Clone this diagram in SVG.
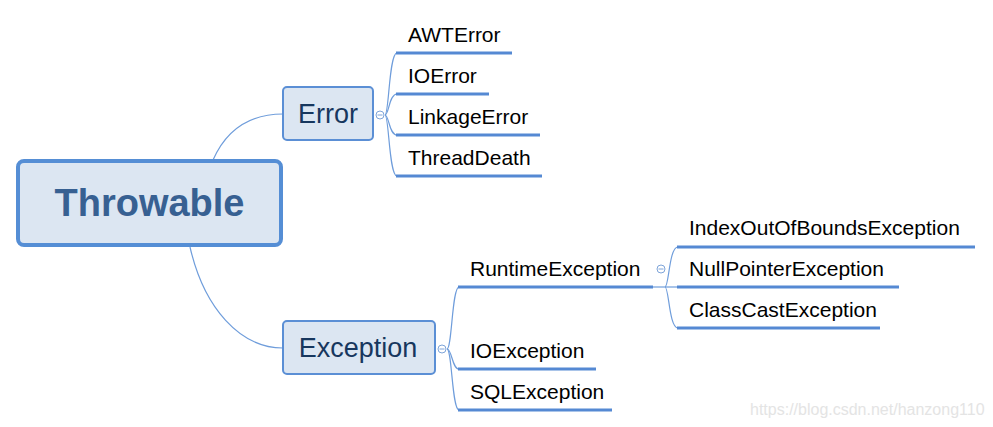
<svg xmlns="http://www.w3.org/2000/svg" width="993" height="427" viewBox="0 0 993 427">
<style>
.conn{fill:none;stroke:#6f9ddb;stroke-width:1.2}
.ul{stroke:#5589d3;stroke-width:3;fill:none}
.leaf{font-family:"Liberation Sans",Arial,sans-serif;font-size:21px;fill:#000}
.mid{font-family:"Liberation Sans",Arial,sans-serif;font-size:27px;fill:#17375e}
.midbox{fill:#dce6f2;stroke:#5b8fd5;stroke-width:2}
.btn{fill:#fff;stroke:#7ea4d9;stroke-width:1}
</style>
<rect width="993" height="427" fill="#fff"/>
<g id="connectors">
<path class="conn" d="M213,160 C228,126 254,114 283,114"/>
<path class="conn" d="M190,247 C204,308 240,348 283,348"/>
<path class="conn" d="M385,115 C389,115 389,53 397,53"/>
<path class="conn" d="M385,115 C389,115 389,94 397,94"/>
<path class="conn" d="M385,115 C389,115 389,135 397,135"/>
<path class="conn" d="M385,115 C389,115 389,176 397,176"/>
<path class="conn" d="M447,349 C452,349 452,287 459,287"/>
<path class="conn" d="M447,349 C452,349 452,369 459,369"/>
<path class="conn" d="M447,349 C452,349 452,410 459,410"/>
<path class="conn" d="M653,287 L677,287"/>
<path class="conn" d="M665,287 C669,287 669,247 678,247"/>
<path class="conn" d="M665,287 C669,287 669,328 678,328"/>
</g>
<g id="throwable">
<rect x="18" y="161" width="263" height="84" rx="6" fill="#dce6f2" stroke="#558ed5" stroke-width="4"/>
<text x="149.5" y="216" text-anchor="middle" font-family="Liberation Sans,Arial,sans-serif" font-weight="bold" font-size="38" fill="#376092">Throwable</text>
</g>
<g id="error">
<rect class="midbox" x="283" y="87" width="90" height="53" rx="4"/>
<text class="mid" x="328" y="123" text-anchor="middle">Error</text>
<circle class="btn" cx="380" cy="115" r="4"/>
<line x1="377.5" y1="115" x2="382.5" y2="115" stroke="#7ea4d9" stroke-width="1"/>
</g>
<g id="awterror"><text class="leaf" x="408" y="42">AWTError</text><line class="ul" x1="396" y1="53" x2="512" y2="53"/></g>
<g id="ioerror"><text class="leaf" x="408" y="83">IOError</text><line class="ul" x1="396" y1="94" x2="489" y2="94"/></g>
<g id="linkageerror"><text class="leaf" x="408" y="124">LinkageError</text><line class="ul" x1="396" y1="135" x2="540" y2="135"/></g>
<g id="threaddeath"><text class="leaf" x="408" y="165">ThreadDeath</text><line class="ul" x1="396" y1="176" x2="542" y2="176"/></g>
<g id="exception">
<rect class="midbox" x="283" y="321" width="152" height="53" rx="4"/>
<text class="mid" x="358" y="357" text-anchor="middle">Exception</text>
<circle class="btn" cx="442" cy="349" r="4"/>
<line x1="439.5" y1="349" x2="444.5" y2="349" stroke="#7ea4d9" stroke-width="1"/>
</g>
<g id="runtimeexception">
<text class="leaf" x="470" y="276">RuntimeException</text><line class="ul" x1="458" y1="287" x2="653" y2="287"/>
<circle class="btn" cx="661" cy="269" r="4"/>
<line x1="658.5" y1="269" x2="663.5" y2="269" stroke="#7ea4d9" stroke-width="1"/>
</g>
<g id="ioexception"><text class="leaf" x="470" y="358">IOException</text><line class="ul" x1="458" y1="369" x2="596" y2="369"/></g>
<g id="sqlexception"><text class="leaf" x="470" y="399">SQLException</text><line class="ul" x1="458" y1="410" x2="612" y2="410"/></g>
<g id="indexoutofbounds"><text class="leaf" x="689" y="235">IndexOutOfBoundsException</text><line class="ul" x1="677" y1="247" x2="975" y2="247"/></g>
<g id="nullpointer"><text class="leaf" x="689" y="276">NullPointerException</text><line class="ul" x1="677" y1="287" x2="899" y2="287"/></g>
<g id="classcast"><text class="leaf" x="689" y="317">ClassCastException</text><line class="ul" x1="677" y1="328" x2="880" y2="328"/></g>
<text x="750" y="415" font-family="Liberation Sans,Arial,sans-serif" font-size="16" fill="#e4e4e4">https://blog.csdn.net/hanzong110</text>
</svg>
